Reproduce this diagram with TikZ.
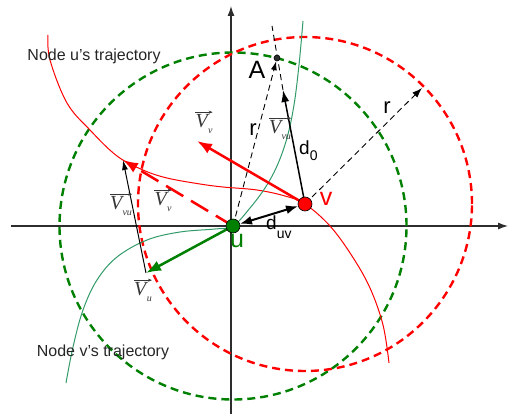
\documentclass[tikz,border=0pt]{standalone}
\usepackage{fontspec}
\setmainfont{Liberation Sans}
\newfontfamily\vfont{Liberation Serif}
\usetikzlibrary{arrows.meta,backgrounds}
\definecolor{dgreen}{RGB}{0,128,0}
\definecolor{tgreen}{RGB}{50,155,105}
\definecolor{axisgray}{RGB}{45,45,45}
\definecolor{labgray}{RGB}{55,55,55}
\newcommand{\vtext}[1]{{\vfont\itshape V\kern0.3pt\raisebox{-0.55ex}{\fontsize{10}{10}\selectfont #1}}}
\begin{document}
\begin{tikzpicture}[x=1pt,y=-1pt,
  axis/.style={draw=axisgray, line width=1.2pt, -{Latex[length=10pt,width=7pt]}},
  dcircle/.style={line width=2.4pt, dash pattern=on 8pt off 5pt},
  traj/.style={line width=1pt},
  thinarrow/.style={draw=black, line width=1pt, -{Latex[length=10pt,width=6pt]}},
  thindash/.style={draw=black, line width=0.9pt, dash pattern=on 6pt off 4pt},
  fatarrow/.style={line width=2.5pt, -{Latex[length=15pt,width=11pt]}},
  trajlab/.style={font=\fontsize{16}{16}\selectfont, text=black!85},
  biglab/.style={font=\fontsize{25}{25}\selectfont, inner sep=0pt},
  midlab/.style={font=\fontsize{19}{19}\selectfont, inner sep=0pt},
  rlab/.style={font=\fontsize{22}{22}\selectfont, inner sep=0pt},
  vl/.style={text=labgray, font=\fontsize{20}{20}\selectfont, inner sep=0pt},
  vecarrow/.style={draw=labgray, line width=0.5pt, -{Stealth[length=4pt,width=3pt]}},
  dot/.style={circle, draw=black, line width=0.6pt, inner sep=0pt}
]
\useasboundingbox (0,0) rectangle (509,414);

% nodes
\node[dot, fill=dgreen, minimum size=14pt] (u) at (233,226) {};
\node[dot, fill=red, minimum size=14pt] (v) at (305,204) {};
\node[dot, fill=axisgray, minimum size=6pt] (A) at (277,58) {};

\coordinate (xL) at (11,226);
\coordinate (xR) at (508,226);
\coordinate (yB) at (231,414);
\coordinate (yT) at (231,6);
\coordinate (vuTip) at (283,90);
\coordinate (lineTop) at (272,26);
\coordinate (rEnd) at (422,88);
\coordinate (vvTip) at (197,141);
\coordinate (vvShift) at (123,160);
\coordinate (uTip) at (146,273);

\begin{scope}[on background layer]
  % axes
  \draw[axis] (xL) -- (xR);
  \draw[axis] (yB) -- (yT);
  % range circles
  \draw[dcircle, dgreen] (u.center) circle[radius=173.5pt];
  \draw[dcircle, red] (v.center) circle[radius=167pt];
  % trajectories
  \draw[traj, red] plot[smooth, tension=0.6] coordinates {(48,35) (50,60) (67,103) (90,130) (117,156) (143,170) (167,178) (200,184) (223,187) (257,190) (285,196) (305,204) (330,226) (352,256) (370,288) (383,325) (389,363)};
  \draw[traj, tgreen] plot[smooth, tension=0.6] coordinates {(66,383) (73,347) (83,310) (97,280) (117,257) (147,240) (180,232) (215,229) (233,226) (250,208) (265,188) (277,166) (287,138) (294,105) (299,65) (303,21)};
  % dashed construction lines
  \draw[thindash, -{Latex[length=9pt,width=6pt]}] (u.center) -- (A);
  \draw[thindash] (vuTip) -- (lineTop);
  \draw[thindash, -{Latex[length=10pt,width=7pt]}] (v.center) -- (rEnd);
  % vectors
  \draw[thinarrow, line width=1.5pt, -{Latex[length=12pt,width=8pt]}] (v.center) -- (vuTip);
  \draw[fatarrow, red] (v.center) -- (vvTip);
  \draw[fatarrow, red, dash pattern=on 20pt off 9pt] (u.center) -- (vvShift);
  \draw[thinarrow] (uTip) -- (vvShift);
  \draw[fatarrow, dgreen] (u.center) -- (uTip);
  \draw[line width=2pt, {Latex[length=12pt,width=9pt]}-{Latex[length=12pt,width=9pt]}] (u) -- (v);
\end{scope}

% labels
\node[trajlab] (lu) at (94,56) {Node u's trajectory};
\node[trajlab] (lv) at (103,352) {Node v's trajectory};
\node[biglab] (lA) at (257,70) {A};
\node[biglab, text=red] (lv2) at (326,199) {v};
\node[biglab, text=dgreen] (lu2) at (237,241) {u};
\node[midlab, anchor=base west] (lduv) at (266,230) {d\raisebox{-0.45em}{\fontsize{14}{14}\selectfont uv}};
\node[midlab, anchor=base west] (ld0) at (299,155) {d\raisebox{-0.3em}{\fontsize{14}{14}\selectfont 0}};
\node[rlab] (lr1) at (253,130) {r};
\node[rlab] (lr2) at (387,108) {r};

\node[vl] (lvv1) at (204,124) {\vtext{v}};
\node[vl] (lvv2) at (163,202) {\vtext{v}};
\node[vl] (lvvu1) at (121,206) {\vtext{vu}};
\node[vl] (lvvu2) at (280,130) {\vtext{vu}};
\node[vl] (lvu) at (143,292) {\vtext{u}};
\foreach \n in {lvv1,lvv2,lvvu1,lvvu2,lvu}
  \draw[vecarrow] ([yshift=2.5pt]\n.north west) -- ([yshift=2.5pt]\n.north east);
\end{tikzpicture}
\end{document}
